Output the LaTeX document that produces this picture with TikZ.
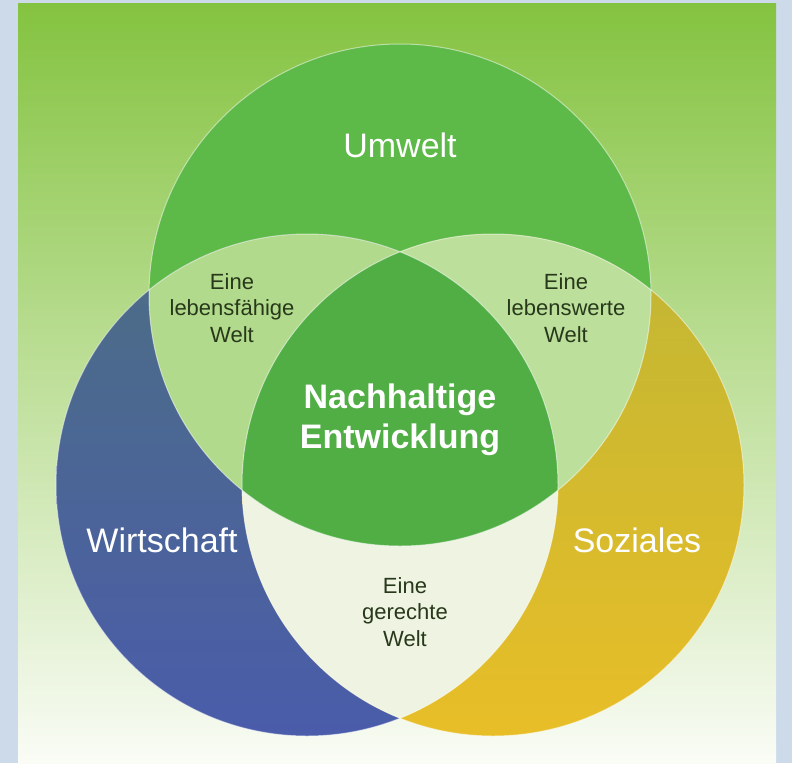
\documentclass[tikz,border=0pt]{standalone}
\usepackage{fontspec}
\setmainfont{Liberation Sans}
\usepackage{tikz}

\definecolor{framebg}{RGB}{204,218,234}
\definecolor{bgtop}{RGB}{132,195,64}
\definecolor{bgmid}{RGB}{196,226,158}
\definecolor{bgbot}{RGB}{250,252,246}
\definecolor{umwelt}{RGB}{93,185,72}
\definecolor{wirttop}{RGB}{76,110,132}
\definecolor{wirtbot}{RGB}{74,92,170}
\definecolor{soztop}{RGB}{192,182,52}
\definecolor{sozbot}{RGB}{232,190,40}
\definecolor{lensleft}{RGB}{178,218,140}
\definecolor{lensright}{RGB}{188,224,156}
\definecolor{lensbot}{RGB}{238,243,226}
\definecolor{kern}{RGB}{80,174,69}
\definecolor{labeltext}{RGB}{40,56,26}

\newcommand{\rad}{251}

\begin{document}
\begin{tikzpicture}[x=1pt,y=-1pt]
\useasboundingbox (0,0) rectangle (792,763);
\fill[framebg] (0,0) rectangle (792,763);
\shade[top color=bgtop, middle color=bgmid, bottom color=bgbot] (18,3) rectangle (776,763);

\coordinate (U) at (400,295);
\coordinate (W) at (307,485);
\coordinate (S) at (493,485);

% the three circles
\fill[umwelt] (U) circle[radius=\rad];
\shade[top color=wirttop, bottom color=wirtbot] (W) circle[radius=\rad];
\shade[top color=soztop, bottom color=sozbot] (S) circle[radius=\rad];

% overlaps
\begin{scope}
    \clip (U) circle[radius=\rad];
    \fill[lensleft] (W) circle[radius=\rad];
\end{scope}
\begin{scope}
    \clip (U) circle[radius=\rad];
    \fill[lensright] (S) circle[radius=\rad];
\end{scope}
\begin{scope}
    \clip (W) circle[radius=\rad];
    \fill[lensbot] (S) circle[radius=\rad];
\end{scope}
\begin{scope}
    \clip (U) circle[radius=\rad];
    \clip (W) circle[radius=\rad];
    \fill[kern] (S) circle[radius=\rad];
\end{scope}

\begin{scope}[draw=white, draw opacity=0.5, line width=1pt]
    \draw (U) circle[radius=\rad];
    \draw (W) circle[radius=\rad];
    \draw (S) circle[radius=\rad];
\end{scope}

\begin{scope}[every node/.style={text=white, font=\fontsize{34}{40}\selectfont, align=center}]
    \node (umw) at (400,145) {Umwelt};
    \node (wir) at (162,540) {Wirtschaft};
    \node (soz) at (637,540) {Soziales};
    \node[font=\fontsize{34}{40}\selectfont\bfseries] (nh) at (400,420) {Nachhaltige\\Entwicklung};
\end{scope}

\begin{scope}[every node/.style={text=labeltext, font=\fontsize{22}{26.5}\selectfont, align=center}]
    \node (lf) at (232,308) {Eine\\lebensfähige\\Welt};
    \node (lw) at (566,308) {Eine\\lebenswerte\\Welt};
    \node (gw) at (405,612) {Eine\\gerechte\\Welt};
\end{scope}
\end{tikzpicture}
\end{document}
